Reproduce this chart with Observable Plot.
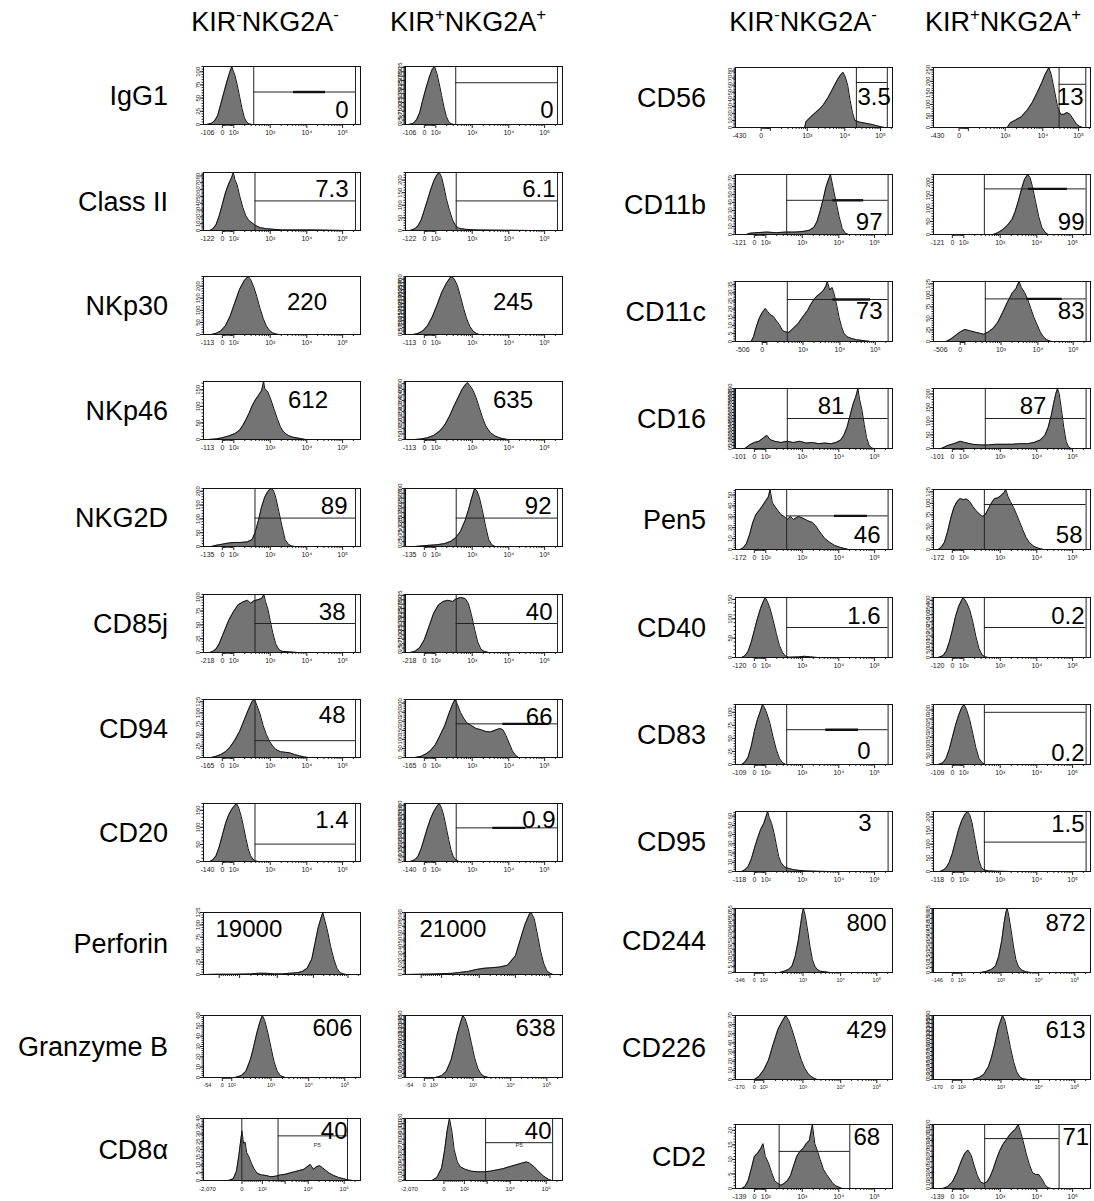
<!DOCTYPE html>
<html><head><meta charset="utf-8">
<script src="https://cdn.jsdelivr.net/npm/d3@7"></script>
<script src="https://cdn.jsdelivr.net/npm/@observablehq/plot@0.6"></script>
<style>
body{margin:0;background:#fff;}
#fig{position:relative;width:1094px;height:1201px;background:#fff;font-family:"Liberation Sans",Arial,Helvetica,sans-serif;color:#000;overflow:hidden}
.hdr{position:absolute;font-size:27px;transform:translate(-50%,-50%);white-space:nowrap}
.hdr sup{font-size:62%;vertical-align:0.6em;line-height:0}
.lab{position:absolute;font-size:27px;transform:translateY(-50%);white-space:nowrap;text-align:right}
.pnl{position:absolute}
</style></head><body><div id="fig"></div><script>
// ---------------- DATA ----------------
const headers = [["KIR","-","NKG2A","-"],["KIR","+","NKG2A","+"],["KIR","-","NKG2A","-"],["KIR","+","NKG2A","+"]];
const leftMarkers = ["IgG1","Class II","NKp30","NKp46","NKG2D","CD85j","CD94","CD20","Perforin","Granzyme B","CD8\u03b1"];
const rightMarkers = ["CD56","CD11b","CD11c","CD16","Pen5","CD40","CD83","CD95","CD244","CD226","CD2"];
const leftNeg = ["-106","-122","-113","-113","-135","-218","-165","-140","","-54","-2,070"];
const rightNeg = ["-430","-121","-506","-101","-172","-120","-109","-118","-146","-170","-139"];
const leftValN = ["0","7.3","220","612","89","38","48","1.4","19000","606","40"];
const leftValP = ["0","6.1","245","635","92","40","66","0.9","21000","638","40"];
const rightValN = ["3.5","97","73","81","46","1.6","0","3","800","429","68"];
const rightValP = ["13","99","83","87","58","0.2","0.2","1.5","872","613","71"];

// histograms: [channel (0-1000 across displayed range), % of panel max count]
const IgG1_n = [[20,0],[50,2],[70,6],[90,15],[110,35],[130,55],[150,75],[165,88],[180,100],[190,92],[200,85],[215,68],[230,48],[245,28],[260,12],[275,4],[290,1],[310,0]];
const IgG1_p = [[20,0],[50,2],[70,8],[90,20],[110,42],[130,62],[150,80],[170,95],[185,100],[200,88],[215,70],[230,50],[245,30],[260,14],[275,5],[290,1],[310,0]];
const ClassII_n = [[40,0],[60,3],[80,10],[100,25],[120,45],[140,65],[160,80],[180,92],[190,100],[200,88],[215,78],[230,60],[250,40],[270,25],[290,17],[310,13],[330,9],[360,5],[400,3],[450,2],[500,1],[600,1],[700,1],[800,0.5],[900,0]];
const ClassII_p = [[30,0],[60,3],[80,8],[100,18],[120,35],[140,52],[160,70],[180,85],[200,96],[215,100],[230,92],[245,75],[260,55],[280,35],[300,18],[320,8],[340,4],[380,2],[450,1],[600,0.5],[800,0]];
const NKp30_n = [[50,0],[80,2],[110,6],[140,15],[170,32],[200,55],[230,78],[260,93],[285,100],[300,95],[320,82],[340,65],[360,45],[380,28],[400,15],[420,7],[440,3],[460,1],[480,0]];
const NKp30_p = [[50,0],[80,2],[110,6],[140,15],[170,30],[200,50],[230,72],[260,88],[290,100],[310,96],[330,85],[350,66],[370,45],[390,27],[410,14],[430,6],[450,2],[470,0]];
const NKp46_n = [[30,0],[80,1],[120,3],[160,6],[200,10],[230,16],[250,24],[270,34],[290,45],[310,58],[330,68],[350,76],[370,84],[383,100],[390,88],[410,82],[430,68],[450,52],[470,36],[490,22],[510,13],[540,7],[570,4],[610,2],[650,0]];
const NKp46_p = [[60,0],[100,1],[140,3],[180,7],[220,15],[250,25],[280,40],[310,58],[340,75],[360,86],[380,94],[395,98],[410,93],[430,85],[450,72],[470,55],[490,38],[510,24],[540,12],[570,6],[610,2],[650,0]];
const NKG2D_n = [[50,0],[80,2],[120,4],[160,6],[200,7],[240,7],[280,8],[310,12],[330,25],[350,45],[370,68],[390,85],[410,95],[430,100],[445,97],[460,85],[480,60],[500,35],[520,12],[540,4],[560,1],[580,0]];
const NKG2D_p = [[60,0],[100,1],[150,2],[200,3],[250,5],[290,9],[320,15],[350,26],[380,45],[400,62],[420,82],[440,100],[455,96],[470,85],[490,62],[510,35],[530,12],[550,3],[570,0]];
const CD85j_n = [[40,0],[60,2],[80,6],[100,15],[130,35],[160,55],[190,70],[220,82],[250,87],[280,90],[300,85],[320,89],[345,91],[370,93],[385,100],[395,88],[410,75],[425,55],[440,35],[460,15],[480,5],[500,2],[550,1],[600,0]];
const CD85j_p = [[30,0],[60,2],[90,8],[120,22],[150,45],[180,68],[210,82],[240,88],[270,90],[300,88],[320,92],[350,95],[380,93],[400,85],[420,65],[440,40],[460,18],[480,6],[500,2],[530,0]];
const CD94_n = [[50,0],[80,2],[110,5],[140,10],[170,18],[200,30],[230,45],[260,65],[290,85],[310,97],[325,100],[340,90],[360,75],[380,55],[400,40],[420,28],[440,20],[460,14],[490,10],[520,9],[550,8],[580,5],[610,3],[640,1],[670,0]];
const CD94_p = [[60,0],[100,2],[130,6],[160,12],[190,22],[220,38],[250,55],[280,78],[300,92],[315,100],[330,92],[350,78],[370,68],[390,60],[420,55],[450,50],[480,48],[510,45],[540,44],[570,47],[600,50],[620,48],[640,38],[660,25],[680,12],[700,4],[720,0]];
const CD20_n = [[40,0],[60,3],[80,10],[100,25],[120,45],[140,65],[160,80],[180,90],[200,97],[210,100],[225,92],[240,78],[255,60],[270,40],[285,22],[300,10],[315,4],[330,1],[350,0]];
const CD20_p = [[30,0],[60,3],[80,9],[100,22],[120,40],[140,58],[160,74],[180,86],[200,95],[215,100],[230,92],[245,78],[260,58],[275,38],[290,20],[305,8],[320,3],[340,0]];
const Perforin_n = [[0,0],[100,0.5],[200,0.5],[300,1],[350,2],[400,2],[450,1],[500,1],[550,2],[600,3],[630,5],[660,10],[690,25],[710,50],[730,75],[745,88],[760,100],[775,85],[790,70],[810,45],[830,25],[850,10],[870,3],[890,1],[910,0]];
const Perforin_p = [[0,0],[100,0.5],[200,1],[300,2],[400,5],[450,8],[500,10],[550,11],[600,12],[650,15],[700,30],[730,55],[760,80],[790,98],[800,100],[820,90],[840,65],[860,38],[880,18],[900,6],[920,2],[940,0]];
const GzB_n = [[200,0],[240,3],[270,10],[300,30],[320,50],[340,72],[360,90],[375,100],[390,92],[410,72],[430,48],[450,25],[470,10],[490,3],[520,0]];
const GzB_p = [[190,0],[230,3],[260,10],[290,28],[310,48],[330,70],[350,88],[365,100],[380,95],[400,78],[420,55],[440,32],[460,15],[480,6],[500,2],[530,0]];
const CD8a_n = [[160,0],[190,3],[210,15],[225,40],[235,60],[245,80],[255,60],[265,62],[275,45],[290,38],[305,28],[320,20],[340,12],[370,9],[400,8],[430,6],[460,7],[490,9],[520,10],[550,12],[580,14],[610,16],[640,18],[660,22],[680,26],[700,18],[720,22],[740,24],[760,20],[780,16],[800,12],[830,8],[860,5],[890,3],[920,1],[950,0]];
const CD8a_p = [[170,0],[200,5],[230,20],[250,50],[265,80],[280,100],[295,80],[310,50],[330,30],[350,22],[380,18],[420,15],[460,14],[500,14],[540,15],[580,17],[620,19],[660,22],[700,25],[740,28],[770,30],[790,28],[820,22],[850,14],[880,7],[910,2],[930,0]];

const CD56_n = [[440,0],[450,10],[480,18],[510,25],[540,32],[560,38],[590,50],[610,60],[630,70],[650,80],[670,88],[685,92],[700,84],[715,70],[730,45],[745,25],[760,12],[790,9],[830,7],[870,5],[900,3],[930,1],[950,0]];
const CD56_p = [[470,0],[490,8],[520,12],[560,18],[600,30],[630,42],[660,58],[690,75],[710,88],[725,95],[735,100],[750,88],[770,62],[790,35],[810,22],[830,22],[850,25],[870,22],[890,14],[910,6],[930,2],[950,0]];
const CD11b_n = [[70,0],[90,2],[130,3],[200,4],[260,3],[320,4],[380,4],[430,5],[470,7],[500,12],[520,22],[540,40],[560,60],[575,78],[590,90],[605,100],[620,80],[640,55],[660,30],[680,10],[700,2],[720,0]];
const CD11b_p = [[380,0],[410,3],[440,8],[470,15],[500,25],[520,38],[540,55],[560,75],[580,92],[600,100],[615,95],[630,80],[650,55],[670,30],[690,12],[710,4],[730,0]];
const CD11c_n = [[100,0],[115,8],[130,22],[150,38],[170,48],[190,55],[205,50],[220,45],[240,42],[260,35],[280,28],[300,18],[320,16],[340,15],[360,20],[380,25],[400,30],[420,38],[440,45],[460,52],[480,62],[500,70],[520,76],[540,80],[560,85],[575,92],[585,100],[600,86],[615,90],[630,78],[645,60],[660,40],[675,25],[690,14],[710,8],[740,5],[770,3],[800,2],[830,1],[860,0]];
const CD11c_p = [[80,0],[110,4],[140,10],[170,16],[200,20],[230,18],[260,16],[290,14],[320,12],[350,16],[380,22],[410,32],[440,48],[470,65],[500,80],[525,88],[545,100],[560,90],[580,82],[600,70],[620,55],[640,40],[660,28],[680,16],[700,8],[720,3],[750,0]];
const CD16_n = [[60,0],[90,6],[120,10],[150,12],[180,18],[200,22],[220,15],[250,12],[290,10],[330,12],[370,10],[410,12],[450,9],[490,10],[530,8],[570,9],[610,8],[640,10],[670,14],[690,22],[710,35],[730,55],[750,75],[765,85],[780,100],[790,82],[805,65],[820,40],[835,18],[850,6],[865,1],[880,0]];
const CD16_p = [[50,0],[90,5],[130,8],[170,12],[200,10],[250,7],[300,6],[350,6],[400,7],[450,7],[500,7],[550,8],[600,8],[640,10],[680,14],[710,22],[730,35],[750,55],[765,75],[780,92],[790,100],[800,92],[815,65],[830,35],[845,12],[860,3],[875,0]];
const Pen5_n = [[30,0],[50,3],[70,10],[90,25],[110,45],[130,58],[150,65],[170,72],[190,80],[210,88],[220,100],[235,78],[250,72],[270,65],[290,58],[310,55],[330,50],[350,55],[370,50],[400,55],[430,52],[460,48],[490,45],[510,40],[530,32],[550,25],[570,18],[600,12],[630,7],[660,4],[690,2],[720,0]];
const Pen5_p = [[30,0],[50,4],[70,12],[90,30],[110,52],[130,70],[150,80],[170,85],[190,83],[210,84],[230,80],[250,72],[270,65],[290,60],[310,55],[330,58],[350,68],[370,78],[390,85],[410,86],[430,90],[450,95],[460,100],[475,88],[490,80],[510,70],[530,58],[550,45],[570,32],[590,20],[610,12],[640,5],[670,2],[700,0]];
const CD40_n = [[40,0],[60,3],[80,10],[100,25],[120,45],[140,65],[160,82],[175,92],[190,100],[205,92],[220,82],[240,62],[260,40],[280,20],[300,8],[320,2],[340,0.5],[400,1],[440,2],[480,1],[520,0]];
const CD40_p = [[30,0],[60,3],[80,10],[100,25],[120,45],[140,68],[160,85],[180,96],[190,100],[210,92],[230,80],[250,60],[270,35],[290,15],[310,4],[330,1],[350,0]];
const CD83_n = [[40,0],[60,4],[80,12],[100,30],[120,55],[140,75],[160,90],[172,100],[185,95],[200,85],[220,68],[240,45],[260,25],[280,10],[300,3],[320,0]];
const CD83_p = [[30,0],[60,3],[80,10],[100,25],[120,45],[140,65],[160,82],[180,95],[195,100],[210,92],[230,75],[250,52],[270,28],[290,10],[310,3],[330,0]];
const CD95_n = [[40,0],[60,3],[80,8],[100,20],[120,38],[140,55],[160,70],[180,80],[195,92],[205,100],[215,90],[230,80],[245,65],[260,45],[275,25],[290,15],[310,8],[340,5],[370,3],[400,2],[450,1],[500,0.5],[600,0]];
const CD95_p = [[40,0],[60,2],[80,6],[100,15],[120,30],[140,50],[160,70],[180,85],[200,95],[215,100],[230,95],[245,82],[260,60],[275,38],[290,18],[305,7],[320,3],[350,1],[400,0.5],[500,0]];
const CD244_n = [[280,0],[310,2],[340,5],[360,10],[380,25],[400,50],[415,75],[425,92],[433,100],[445,88],[460,65],[475,40],[490,20],[505,10],[520,5],[540,2],[570,1],[600,0]];
const CD244_p = [[300,0],[340,2],[370,5],[395,10],[415,25],[435,50],[450,78],[462,95],[470,100],[480,88],[495,65],[510,40],[525,20],[540,10],[560,4],[590,1],[620,0]];
const CD226_n = [[120,0],[150,5],[180,15],[210,30],[240,55],[270,78],[300,92],[320,100],[340,92],[360,78],[380,62],[400,45],[420,30],[440,18],[460,10],[480,5],[500,2],[520,0]];
const CD226_p = [[250,0],[290,3],[320,8],[350,20],[370,35],[390,55],[410,78],[425,90],[440,100],[455,92],[470,75],[490,50],[510,28],[530,12],[550,4],[570,1],[600,0]];
const CD2_n = [[40,0],[60,3],[80,12],[100,30],[120,50],[140,55],[160,62],[175,70],[190,50],[210,40],[230,25],[250,12],[270,8],[290,5],[310,8],[330,12],[350,20],[370,35],[390,50],[410,58],[430,62],[450,70],[470,75],[490,100],[505,70],[520,60],[540,45],[560,30],[580,22],[600,15],[620,8],[640,4],[660,2],[680,0]];
const CD2_p = [[60,0],[90,3],[120,10],[150,25],[180,45],[200,55],[220,60],[240,52],[260,35],[280,20],[300,10],[320,8],[340,10],[360,18],[380,30],[400,45],[420,58],[440,68],[460,75],[480,82],[500,88],[520,92],[540,100],[555,88],[570,75],[590,55],[610,38],[630,25],[650,22],[670,22],[690,15],[710,6],[730,1],[750,0]];

const leftN = [IgG1_n, ClassII_n, NKp30_n, NKp46_n, NKG2D_n, CD85j_n, CD94_n, CD20_n, Perforin_n, GzB_n, CD8a_n];
const leftP = [IgG1_p, ClassII_p, NKp30_p, NKp46_p, NKG2D_p, CD85j_p, CD94_p, CD20_p, Perforin_p, GzB_p, CD8a_p];
const rightN = [CD56_n, CD11b_n, CD11c_n, CD16_n, Pen5_n, CD40_n, CD83_n, CD95_n, CD244_n, CD226_n, CD2_n];
const rightP = [CD56_p, CD11b_p, CD11c_p, CD16_p, Pen5_p, CD40_p, CD83_p, CD95_p, CD244_p, CD226_p, CD2_p];

// gates: [left channel, right channel, height %, bar start, bar end, extra vertical]
const gatesLN = [[320,968,56,574,777],[328,968,51],null,null,[328,968,49],[328,968,50],[328,968,29],[328,968,30],null,null,[475,917,72,null,null,244]];
const gatesLP = [[320,968,72],[323,968,51],null,null,[323,968,49],[323,968,50],[323,968,58,620,900],[323,968,58,556,767],null,null,[510,937,61]];
const gatesRN = [[770,967,75],[326,972,57,620,816],[330,972,70,620,860],[330,972,50],[326,972,56,630,840],[326,972,50],[326,972,58,575,784],[326,972,null],null,null,[278,728,58]];
const gatesRP = [[800,970,72],[324,972,76,605,853],[330,972,71,594,820],[330,972,50],[324,972,75],[324,972,50],[324,972,87],[324,972,49],null,null,[326,800,78]];

// y axes: [count at top of panel, label step]
const yLN = [[110,25],[85,10],[240,50],[175,50],[210,50],[105,25],[130,25],[170,50],[125,25],[60,10],[40,5]];
const yLP = [[330,25],[230,50],[420,25],[520,50],[300,25],[330,25],[320,50],[620,50],[90,10],[150,10],[120,10]];
const yRN = [[85,10],[75,10],[37,5],[100,5],[55,10],[155,50],[115,25],[65,10],[55,5],[70,10],[22,5]];
const yRP = [[260,50],[230,50],[130,25],[220,50],[130,25],[420,50],[330,50],[220,50],[65,5],[160,10],[120,10]];

// x axis types: channel of 0, 10^2, 10^3, 10^4, 10^5
const AXES = {
  std:   {dec:[120,193,425,658,886], neg:25, show:[0,1,2,3,4,5], fs:7},
  cd56:  {dec:[163,222,457,696,924], neg:25, show:[0,1,3,4,5], fs:7},
  cd11c: {dec:[170,200,430,665,890], neg:45, show:[0,1,3,4,5], fs:7},
  cd8:   {dec:[245,375,520,667,896], neg:25, show:[0,1,2,4,5], fs:6},
  alt:   {dec:[120,180,430,670,900], neg:25, show:[0,1,2,3,4,5], fs:5.5},
  perf:  {dec:[100,230,470,700,920], neg:25, show:[], fs:5}
};
const leftAxis = ["std","std","std","std","std","std","std","std","perf","alt","cd8"];
const rightAxis = ["cd56","std","cd11c","std","std","std","std","std","alt","alt","std"];

// ---------------- LAYOUT ----------------
const colX = [203, 405, 735, 933];
const FW = 157;
const leftTops = [66,172,276,381,488,594,699,803,912,1015,1118];
const rightTops = [67,174,281,388,489,597,704,811,908,1015,1124];
const leftH = [58,58,58,58,58,58,58,58,62,62,62];
const rightH = [60,60,60,60,60,60,60,60,64,64,64];
// value label placement: [frameAnchor, dx, dy]
const labLN = [["bottom-right",-12,-7],["top-right",-12,7],["middle",25,-3],["middle",26,-10],["top-right",-13,8],["top-right",-15,8],["top-right",-15,6],["top-right",-12,7],["top-left",12,7],["top-right",-8,3],["top-right",-13,3]];
const labLP = [["bottom-right",-9,-7],["top-right",-7,7],["middle",29,-3],["middle",29,-10],["top-right",-11,8],["top-right",-10,8],["top-right",-10,8],["top-right",-7,7],["top-left",14,7],["top-right",-7,3],["top-right",-11,3]];
const labRN = [["left",122,0],["bottom-right",-10,-5],["right",-10,0],["top",17,8],["bottom-right",-12,-7],["top-right",-12,9],["bottom-right",-22,-6],["top",51,2],["top-right",-6,5],["top-right",-6,5],["top-left",118,3]];
const labRP = [["right",-7,0],["bottom-right",-6,-5],["right",-6,0],["top",21,8],["bottom-right",-8,-7],["top-right",-6,9],["bottom-right",-6,-4],["top-right",-6,3],["top-right",-5,5],["top-right",-5,5],["top-left",129,3]];

const fig = document.getElementById("fig");
const FONT = "Liberation Sans, Arial, Helvetica, sans-serif";
const headX = [265, 468, 803, 1003];
headers.forEach((h, i) => {
  const d = document.createElement("div");
  d.className = "hdr";
  d.style.left = headX[i] + "px";
  d.style.top = "22px";
  d.innerHTML = `${h[0]}<sup>${h[1]}</sup>${h[2]}<sup>${h[3]}</sup>`;
  fig.appendChild(d);
});
function rowLabel(text, rightEdge, cy) {
  const d = document.createElement("div");
  d.className = "lab";
  d.style.right = (1094 - rightEdge) + "px";
  d.style.top = cy + "px";
  d.textContent = text;
  fig.appendChild(d);
}
leftMarkers.forEach((m, i) => rowLabel(m, 168, leftTops[i] + leftH[i] / 2 + 1));
rightMarkers.forEach((m, i) => rowLabel(m, 706, rightTops[i] + rightH[i] / 2 + 1));

const supMap = ["0", "10\u00b2", "10\u00b3", "10\u2074", "10\u2075"];
function xAxisMarks(type, neg) {
  const A = AXES[type];
  const [z, d2, d3, d4, d5] = A.dec;
  const minors = [];
  for (let v = 10; v < 100; v += 10) minors.push(z + (d2 - z) * v / 100);
  const ds = [d2, d3, d4, d5];
  for (let i = 0; i < 3; i++) for (let k = 2; k <= 9; k++) minors.push(ds[i] + Math.log10(k) * (ds[i + 1] - ds[i]));
  minors.push(d5 + Math.log10(2) * (d5 - d4));
  const pos = [A.neg, z, d2, d3, d4, d5];
  const names = [neg].concat(supMap);
  const labs = A.show.filter(i => names[i] !== "").map(i => ({c: pos[i], t: names[i]}));
  return [
    Plot.axisX(minors.filter(c => c < 1000), {tickSize: 2, tickFormat: () => "", stroke: "#222", label: null}),
    Plot.axisX(A.dec, {tickSize: 4, tickFormat: () => "", stroke: "#222", label: null}),
    Plot.text(labs, {x: "c", text: "t", frameAnchor: "bottom", lineAnchor: "top", dy: 6, fontSize: A.fs, fill: "#222"})
  ];
}
function yAxisMarks(ymax, step) {
  const majors = d3.range(0, ymax + 1e-9, step).map(c => c / ymax * 100);
  const minors = d3.range(0, ymax + 1e-9, step / 5).map(c => c / ymax * 100);
  return [
    Plot.axisY(minors, {tickSize: 1.5, tickFormat: () => "", stroke: "#222", label: null}),
    Plot.axisY(majors, {tickSize: 3, tickFormat: v => String(Math.round(v * ymax / 100)), tickRotate: -90, fontSize: 6, tickPadding: 1, fill: "#222", stroke: "#222", label: null})
  ];
}
function gateMarks(g) {
  if (!g) return [];
  const [g1, g2, gy, b1, b2, ex] = g;
  const m = [Plot.ruleX([g1, g2], {stroke: "#222", strokeWidth: 1})];
  if (ex != null) m.push(Plot.ruleX([ex], {stroke: "#222", strokeWidth: 1}));
  if (gy != null) m.push(Plot.ruleY([gy], {x1: g1, x2: g2, stroke: "#222", strokeWidth: 1}));
  if (b1 != null) m.push(Plot.ruleY([gy], {x1: b1, x2: b2, stroke: "#111", strokeWidth: 2.4}));
  return m;
}
const ML = 16, MR = 3, MT = 4, MB = 18;
function panel(x, top, h, data, gate, yax, axType, neg, val, lab, extra) {
  const marks = [
    ...yAxisMarks(yax[0], yax[1]),
    ...xAxisMarks(axType, neg),
    Plot.areaY(data, {x: d => d[0], y: d => d[1], fill: "#747474"}),
    Plot.lineY(data, {x: d => d[0], y: d => d[1], stroke: "#111", strokeWidth: 1}),
    ...gateMarks(gate),
    Plot.frame({stroke: "#111", strokeWidth: 1}),
    Plot.text([val], {text: d => d, frameAnchor: lab[0], dx: lab[1], dy: lab[2], fontSize: 24, fill: "#000"})
  ];
  if (extra) marks.push(Plot.text([extra], {text: d => d, frameAnchor: "top-left", dx: 110, dy: 24, fontSize: 6, fill: "#333"}));
  const svg = Plot.plot({
    width: FW + ML + MR, height: h + MT + MB,
    marginLeft: ML, marginRight: MR, marginTop: MT, marginBottom: MB,
    x: {domain: [0, 1000], axis: null, label: null},
    y: {domain: [0, 100], axis: null, label: null},
    style: {background: "transparent", overflow: "visible", fontFamily: FONT, maxWidth: "none"},
    marks
  });
  const d = document.createElement("div");
  d.className = "pnl";
  d.style.left = (x - ML) + "px";
  d.style.top = (top - MT) + "px";
  d.style.width = (FW + ML + MR) + "px";
  d.appendChild(svg);
  fig.appendChild(d);
}
for (let i = 0; i < 11; i++) {
  const ex = i === 10 ? "P5" : null;
  panel(colX[0], leftTops[i], leftH[i], leftN[i], gatesLN[i], yLN[i], leftAxis[i], leftNeg[i], leftValN[i], labLN[i], ex);
  panel(colX[1], leftTops[i], leftH[i], leftP[i], gatesLP[i], yLP[i], leftAxis[i], leftNeg[i], leftValP[i], labLP[i], ex);
  panel(colX[2], rightTops[i], rightH[i], rightN[i], gatesRN[i], yRN[i], rightAxis[i], rightNeg[i], rightValN[i], labRN[i], null);
  panel(colX[3], rightTops[i], rightH[i], rightP[i], gatesRP[i], yRP[i], rightAxis[i], rightNeg[i], rightValP[i], labRP[i], null);
}
</script></body></html>
